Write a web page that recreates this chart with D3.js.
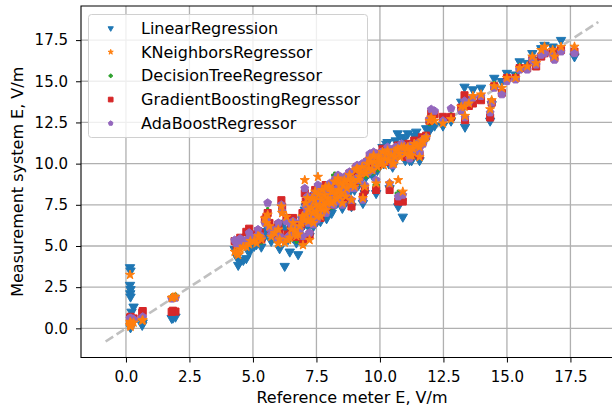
<!DOCTYPE html>
<html>
<head>
<meta charset="utf-8">
<script src="https://cdn.jsdelivr.net/npm/d3@7"></script>
<style>
  body { margin: 0; background: #fff; }
  svg { font-family: "DejaVu Sans", sans-serif; }
</style>
</head>
<body>
<div id="chart"></div>
<script>
// Predicted vs reference field strength, one point per test sample and model

// Reference meter readings (x) shared by all models
const refE = [
  0.16, 0.18, 0.16, 0.18, 0.17, 0.18, 0.30, 0.22, 0.18, 0.64, 0.66, 1.85, 1.95, 1.80,
  4.28, 4.42, 4.50, 4.62, 4.74, 4.85, 4.36, 4.90,
  5.05, 5.14, 5.27, 5.33, 5.47, 5.53, 5.58, 5.72, 5.86, 5.99, 6.05, 6.12, 6.15, 6.25,
  6.32, 6.38, 6.45, 6.51, 6.65, 6.71, 6.78,
  6.90, 6.97, 7.04, 7.10, 7.18, 7.23, 7.30, 7.36, 7.42, 7.50, 7.56, 7.62, 7.70, 7.75,
  7.82, 7.90, 7.95, 8.02, 8.10, 8.15, 8.22, 8.30, 8.38, 8.45, 8.52,
  8.60, 8.70, 8.80, 8.88, 8.95, 9.05, 9.15, 9.25, 9.33, 9.40, 9.50, 9.60, 9.70, 9.78, 9.85,
  9.95, 10.05, 10.15, 10.25, 10.38, 10.45, 10.55, 10.70, 10.72, 10.80, 10.90, 11.00,
  11.10, 11.25, 11.43, 11.55, 11.82,
  11.95, 12.02, 12.15, 12.48, 12.80,
  13.20, 13.33, 13.35, 13.50, 13.66, 13.98, 14.34, 14.40, 14.50, 14.80, 15.00, 15.34,
  15.50, 15.80, 16.00, 16.15, 16.35, 16.48, 16.80, 16.87, 17.13, 17.66,
  7.15, 7.28, 7.45, 7.66, 7.86, 8.05, 8.26, 8.48, 8.65, 9.00, 9.45, 9.90,
  10.10, 10.35, 10.62, 10.95, 11.17, 11.35, 11.56, 11.70,
  6.85, 6.95, 7.02, 7.08, 7.20, 7.33, 7.38, 7.48, 7.53, 7.58, 7.68, 7.72, 7.80, 7.88,
  7.98, 8.08, 8.18, 8.28, 8.35, 8.42, 8.55, 8.75, 8.85, 9.10, 9.20, 9.30, 9.55, 9.65,
  9.75, 10.00, 10.20, 10.30, 10.50, 10.60, 10.75, 10.85, 11.05, 11.20, 11.30, 11.48,
  11.65, 5.20, 5.65, 6.00, 6.58
];

const linReg = [
  3.70, 3.50, 2.63, 2.37, 2.12, 1.92, 1.31, 1.00, 0.05, 0.20, 0.35, 0.64, 0.70, 0.62,
  4.80, 3.84, 4.10, 4.14, 4.25, 4.60, 4.35, 4.90,
  5.00, 5.10, 5.20, 4.95, 5.60, 5.90, 6.10, 5.30, 5.50, 5.30, 4.85, 6.40, 6.20, 3.78,
  6.00, 5.40, 4.65, 5.90, 5.70, 5.20, 4.49,
  6.10, 5.30, 7.20, 6.60, 6.20, 5.60, 7.00, 6.80, 7.40, 6.70, 7.80, 7.20, 7.50, 6.90,
  7.80, 6.67, 7.60, 8.20, 7.00, 8.00, 8.40, 7.60, 8.20, 8.60, 7.30,
  8.80, 8.30, 9.10, 7.40, 8.90, 9.30, 8.70, 9.20, 7.60, 8.20, 9.80, 10.20, 9.30, 9.80, 8.20,
  10.30, 10.60, 10.00, 11.20, 8.50, 10.90, 10.40, 11.83, 7.40, 10.70, 6.77, 10.20,
  11.83, 10.20, 11.93, 11.30, 12.14,
  12.00, 12.20, 12.30, 12.30, 12.60,
  13.75, 14.66, 12.23, 13.90, 14.50, 14.60, 12.60, 13.60, 15.20, 15.00, 15.50, 15.40,
  16.20, 16.10, 16.70, 16.30, 17.00, 17.20, 17.10, 16.80, 17.50, 16.50,
  7.60, 6.40, 8.10, 6.50, 8.30, 7.30, 8.70, 8.00, 7.80, 8.40, 9.20, 9.60,
  11.00, 10.00, 11.40, 11.50, 10.20, 11.70, 10.20, 11.60,
  5.90, 6.60, 6.30, 7.40, 7.00, 7.60, 6.20, 7.20, 6.50, 7.90, 7.10, 8.20, 7.30, 7.00,
  8.30, 8.10, 7.40, 8.00, 8.90, 7.70, 8.50, 8.80, 8.40, 9.40, 8.90, 9.60, 9.40, 9.90,
  10.30, 9.90, 10.50, 11.30, 9.80, 10.60, 10.90, 11.60, 11.20, 11.00, 10.60, 11.50,
  11.20, 5.30, 5.80, 5.60, 5.50
];

const kNeighbors = [
  3.25, 0.35, 0.20, 0.15, 0.40, 0.30, 0.35, 0.25, 0.10, 0.46, 0.50, 1.88, 1.92, 1.85,
  4.65, 4.45, 4.80, 4.95, 4.95, 5.10, 4.55, 5.30,
  5.30, 5.16, 5.55, 5.40, 6.67, 6.40, 6.90, 5.56, 5.80, 5.16, 5.40, 7.40, 7.00, 5.20,
  6.77, 5.36, 5.50, 6.00, 5.96, 5.60, 5.70,
  6.40, 5.05, 9.00, 6.90, 6.50, 5.36, 7.30, 7.00, 7.80, 7.10, 9.20, 7.40, 7.80, 7.20,
  8.10, 7.60, 7.90, 8.50, 7.60, 8.30, 8.90, 7.90, 8.40, 8.80, 7.60,
  9.00, 8.50, 9.30, 7.80, 9.00, 9.60, 9.00, 9.50, 7.90, 8.60, 10.00, 10.30, 9.60, 10.10, 8.80,
  10.40, 10.20, 9.90, 10.60, 8.80, 10.50, 10.00, 10.90, 9.00, 10.40, 8.30, 10.60,
  11.00, 10.50, 11.10, 11.00, 11.60,
  12.60, 12.80, 12.60, 12.44, 12.70,
  13.45, 13.45, 12.90, 13.65, 14.10, 14.20, 13.30, 13.85, 14.70, 14.60, 15.20, 15.20,
  15.80, 15.90, 16.50, 16.10, 16.90, 17.10, 16.90, 16.50, 17.09, 17.10,
  7.90, 6.60, 8.30, 6.80, 8.60, 7.70, 8.90, 8.20, 8.00, 8.60, 9.40, 9.80,
  10.70, 10.20, 10.80, 11.00, 10.50, 11.20, 10.40, 11.30,
  6.20, 6.80, 6.60, 7.60, 7.20, 7.90, 6.40, 7.50, 6.80, 8.10, 7.30, 8.40, 7.50, 7.20,
  8.60, 8.30, 7.70, 8.20, 9.10, 8.00, 8.70, 9.00, 8.70, 9.70, 9.20, 9.80, 9.70, 10.10,
  10.50, 10.10, 10.30, 10.80, 10.00, 10.40, 10.60, 11.00, 10.90, 10.80, 10.90, 11.10,
  11.40, 5.60, 6.20, 6.00, 6.40
];

const decisionTree = [
  0.55, 0.45, 0.30, 0.25, 0.35, 0.40, 0.50, 0.35, 0.20, 0.70, 0.65, 1.90, 1.95, 1.88,
  5.20, 5.00, 5.40, 5.10, 5.70, 5.90, 5.00, 5.60,
  5.40, 5.50, 5.70, 5.30, 6.50, 6.70, 7.14, 5.80, 6.00, 5.50, 5.70, 7.60, 7.20, 5.30,
  6.60, 5.60, 5.40, 6.10, 6.00, 5.36, 5.80,
  6.20, 5.10, 8.40, 6.70, 6.60, 5.50, 7.20, 7.10, 7.60, 7.00, 8.60, 7.50, 7.70, 7.10,
  8.00, 7.50, 8.10, 8.60, 7.40, 8.20, 9.30, 8.00, 8.30, 8.70, 7.80,
  8.90, 8.40, 9.20, 7.60, 9.10, 9.50, 8.90, 9.40, 7.80, 8.50, 9.90, 10.20, 9.50, 10.00, 8.70,
  10.50, 10.30, 10.00, 10.70, 8.60, 10.40, 10.10, 11.00, 8.20, 10.50, 7.80, 10.50,
  11.10, 10.40, 11.00, 11.20, 11.50,
  12.50, 13.00, 12.90, 12.70, 12.90,
  13.30, 14.00, 12.70, 13.60, 13.80, 14.00, 13.00, 13.80, 14.80, 14.40, 15.10, 15.30,
  15.90, 15.80, 16.40, 16.00, 16.60, 16.80, 16.80, 16.40, 16.90, 16.80,
  7.80, 6.50, 8.20, 6.90, 8.50, 7.60, 8.80, 8.10, 8.10, 8.50, 9.30, 9.70,
  10.80, 10.30, 10.70, 11.10, 10.60, 11.30, 10.60, 11.40,
  6.10, 6.90, 6.50, 7.50, 7.30, 7.70, 6.60, 7.40, 6.70, 8.00, 7.40, 8.30, 7.60, 7.10,
  8.50, 8.20, 7.60, 8.30, 9.00, 7.90, 8.60, 9.10, 8.60, 9.60, 9.10, 9.90, 9.60, 10.00,
  10.40, 10.20, 10.40, 10.90, 10.10, 10.50, 10.70, 10.90, 11.00, 10.90, 10.80, 11.20,
  11.30, 5.80, 6.30, 6.20, 6.60
];

const gradBoost = [
  0.60, 0.55, 0.45, 0.50, 0.65, 0.70, 0.60, 0.55, 0.40, 0.95, 1.05, 1.07, 1.02, 1.00,
  5.30, 5.16, 5.50, 5.25, 5.86, 6.05, 5.05, 5.70,
  5.50, 5.35, 5.80, 5.40, 6.60, 6.77, 7.00, 5.90, 6.10, 5.60, 5.75, 7.78, 7.38, 5.45,
  6.70, 5.70, 5.60, 6.16, 6.20, 5.55, 5.90,
  6.30, 5.40, 8.20, 6.80, 6.70, 5.70, 7.40, 7.00, 7.70, 7.20, 8.50, 7.60, 7.90, 7.30,
  8.20, 7.70, 8.00, 8.40, 7.50, 8.40, 8.80, 8.10, 8.50, 8.90, 7.70,
  9.10, 8.70, 9.40, 7.40, 9.20, 9.70, 9.10, 9.60, 8.00, 8.40, 10.10, 10.40, 9.70, 10.20, 8.40,
  10.60, 10.50, 10.10, 10.80, 8.40, 10.60, 10.30, 11.10, 7.70, 10.60, 7.70, 10.40,
  11.20, 10.60, 11.30, 11.10, 11.70,
  12.60, 13.05, 13.00, 12.84, 12.84,
  13.40, 14.15, 12.64, 13.50, 13.65, 13.85, 12.80, 13.70, 14.70, 14.30, 15.20, 15.20,
  15.80, 15.80, 16.30, 15.90, 16.50, 16.70, 16.80, 16.40, 16.90, 16.80,
  7.70, 6.80, 8.40, 6.70, 8.70, 7.80, 9.00, 8.30, 7.90, 8.70, 9.50, 9.90,
  10.90, 10.10, 10.90, 10.90, 10.40, 11.40, 10.50, 11.50,
  6.30, 7.00, 6.70, 7.70, 7.10, 8.00, 6.50, 7.60, 6.90, 8.20, 7.20, 8.50, 7.40, 7.30,
  8.70, 8.40, 7.80, 8.10, 9.20, 8.10, 8.80, 8.90, 8.80, 9.80, 9.30, 9.70, 9.80, 10.20,
  10.60, 10.00, 10.60, 10.70, 10.20, 10.70, 10.80, 11.10, 11.10, 11.00, 10.70, 11.30,
  11.60, 5.90, 6.40, 6.30, 6.70
];

const adaBoost = [
  0.62, 0.50, 0.60, 0.55, 0.62, 0.58, 0.55, 0.60, 0.45, 0.64, 0.70, 1.82, 1.85, 1.80,
  5.36, 5.30, 5.45, 5.20, 5.36, 5.80, 5.10, 5.55,
  5.45, 5.60, 5.66, 5.50, 6.40, 6.55, 7.62, 5.70, 5.96, 5.40, 5.60, 7.50, 7.10, 5.35,
  6.50, 5.55, 5.65, 6.30, 6.10, 5.70, 5.85,
  6.50, 5.60, 8.50, 7.00, 6.40, 5.80, 7.10, 7.30, 7.50, 6.90, 8.70, 7.70, 8.00, 7.10,
  8.30, 7.40, 7.80, 8.80, 7.70, 8.10, 9.00, 7.80, 8.60, 8.70, 7.50,
  9.20, 8.60, 9.50, 7.80, 9.00, 9.80, 9.20, 9.50, 7.80, 8.70, 10.20, 10.60, 9.60, 10.00, 9.00,
  10.40, 10.70, 10.20, 10.60, 8.80, 10.80, 10.20, 10.90, 8.00, 10.80, 8.10, 10.70,
  11.00, 10.70, 11.20, 10.90, 11.60,
  12.70, 13.30, 13.20, 12.60, 13.35,
  13.20, 13.80, 12.80, 13.70, 14.00, 14.10, 13.10, 13.70, 14.60, 14.20, 15.00, 15.10,
  15.70, 15.70, 16.30, 16.00, 16.60, 16.70, 16.60, 16.30, 16.80, 16.70,
  8.00, 6.70, 8.20, 7.00, 8.40, 7.90, 9.10, 8.40, 8.20, 8.50, 9.60, 10.00,
  10.60, 10.40, 11.00, 10.80, 10.30, 11.10, 10.70, 11.20,
  6.00, 6.70, 6.80, 7.40, 7.40, 7.80, 6.30, 7.70, 6.60, 8.30, 7.50, 8.20, 7.70, 7.00,
  8.40, 8.50, 7.50, 8.40, 9.30, 7.80, 8.90, 9.20, 8.50, 9.90, 9.00, 10.00, 9.50, 10.30,
  10.70, 10.30, 10.50, 11.00, 9.90, 10.60, 10.50, 11.20, 10.80, 11.10, 11.00, 11.00,
  11.40, 6.00, 6.10, 6.40, 6.50
];

// Legend order and styling
const modelNames = ["LinearRegression", "KNeighborsRegressor", "DecisionTreeRegressor",
                    "GradientBoostingRegressor", "AdaBoostRegressor"];
const modelValues = [linReg, kNeighbors, decisionTree, gradBoost, adaBoost];
const modelColors = ["#1f77b4", "#ff7f0e", "#2ca02c", "#d62728", "#9467bd"];

// Ideal y = x guide
const idealLine = [-0.8, 18.6];
const xTicks = [0.0, 2.5, 5.0, 7.5, 10.0, 12.5, 15.0, 17.5];
const yTicks = [0.0, 2.5, 5.0, 7.5, 10.0, 12.5, 15.0, 17.5];

// Pentagon marker (matplotlib "p")
const symbolPentagon = {
  draw(ctx, size) {
    const r = Math.sqrt(size / 2.3776);
    for (let i = 0; i < 5; i++) {
      const a = -Math.PI / 2 + i * 2 * Math.PI / 5;
      if (i === 0) ctx.moveTo(r * Math.cos(a), r * Math.sin(a));
      else ctx.lineTo(r * Math.cos(a), r * Math.sin(a));
    }
    ctx.closePath();
  }
};

const modelSymbols = [d3.symbolTriangle, d3.symbolStar, d3.symbolCross, d3.symbolSquare, symbolPentagon];
const modelSizes = [38, 26, 22, 50, 40];
const legendSizes = [12, 8, 7, 22, 14];
const modelRotate = [180, 0, 0, 0, 0];

const width = 612;
const height = 409;

const svg = d3.select("#chart")
  .append("svg")
  .attr("width", width)
  .attr("height", height);

const pad = 0.05 * (idealLine[1] - idealLine[0]);
const x = d3.scaleLinear()
  .domain([idealLine[0] - pad, idealLine[1] + pad])
  .range([81, 623]);
const y = d3.scaleLinear()
  .domain([idealLine[0] - pad, idealLine[1] + pad])
  .range([357.5, 6]);

// Grid
const grid = svg.append("g")
  .attr("stroke", "#b0b0b0")
  .attr("stroke-width", 1.3);
grid.selectAll(".gx")
  .data(xTicks)
  .join("line")
    .attr("x1", d => x(d)).attr("x2", d => x(d))
    .attr("y1", y.range()[0]).attr("y2", y.range()[1]);
grid.selectAll(".gy")
  .data(yTicks)
  .join("line")
    .attr("y1", d => y(d)).attr("y2", d => y(d))
    .attr("x1", x.range()[0]).attr("x2", x.range()[1]);

// y = x dashed line, underneath the points
svg.append("line")
  .attr("x1", x(idealLine[0])).attr("y1", y(idealLine[0]))
  .attr("x2", x(idealLine[1])).attr("y2", y(idealLine[1]))
  .attr("stroke", "#c0c0c0")
  .attr("stroke-width", 2.6)
  .attr("stroke-dasharray", "9,4");

// Scatter, drawn so that KNeighbors sits on top like in the original
const drawOrder = [0, 2, 3, 4, 1];
const marks = svg.append("g");
drawOrder.forEach(k => {
  const sym = d3.symbol().type(modelSymbols[k]).size(modelSizes[k]);
  marks.append("g")
    .attr("fill", modelColors[k])
    .attr("stroke", modelColors[k])
    .attr("stroke-width", 1)
    .attr("stroke-linejoin", "round")
    .selectAll("path")
    .data(refE.map((d, i) => [d, modelValues[k][i]]))
    .join("path")
      .attr("d", sym)
      .attr("transform", d => `translate(${x(d[0])},${y(d[1])}) rotate(${modelRotate[k]})`);
});

// Axes
const xAxis = svg.append("g")
  .attr("transform", `translate(0,${y.range()[0]})`)
  .call(d3.axisBottom(x).tickValues(xTicks).tickFormat(d3.format(".1f"))
    .tickSize(5).tickPadding(8.5));
const yAxis = svg.append("g")
  .attr("transform", `translate(${x.range()[0]},0)`)
  .call(d3.axisLeft(y).tickValues(yTicks).tickFormat(d3.format(".1f"))
    .tickSize(5).tickPadding(8));

[xAxis, yAxis].forEach(a => {
  a.selectAll("text").attr("font-size", 15).attr("fill", "#000")
    .attr("font-family", "DejaVu Sans");
  a.selectAll("line").attr("stroke", "#000");
  a.select(".domain").remove();
});

// Spines: left, bottom and top (right one falls outside the picture)
svg.append("path")
  .attr("d", `M${x.range()[1]},${y.range()[1]}H${x.range()[0]}V${y.range()[0]}H${x.range()[1]}`)
  .attr("fill", "none")
  .attr("stroke", "#000")
  .attr("stroke-width", 1.1);

svg.append("text")
  .attr("x", (x.range()[0] + x.range()[1]) / 2)
  .attr("y", 403)
  .attr("text-anchor", "middle")
  .attr("font-size", 16)
  .text("Reference meter E, V/m");

svg.append("text")
  .attr("transform", `translate(23,${(y.range()[0] + y.range()[1]) / 2}) rotate(-90)`)
  .attr("text-anchor", "middle")
  .attr("font-size", 16)
  .text("Measurement system E, V/m");

// Legend
const legend = svg.append("g").attr("transform", "translate(88.5,14.5)");
legend.append("rect")
  .attr("width", 279)
  .attr("height", 123)
  .attr("rx", 3)
  .attr("fill", "#fff")
  .attr("fill-opacity", 0.8)
  .attr("stroke", "#d0d0d0");

modelNames.forEach((name, k) => {
  const row = legend.append("g").attr("transform", `translate(0,${13.8 + k * 23.75})`);
  row.append("path")
    .attr("d", d3.symbol().type(modelSymbols[k]).size(legendSizes[k]))
    .attr("fill", modelColors[k])
    .attr("stroke", modelColors[k])
    .attr("stroke-width", 1)
    .attr("stroke-linejoin", "round")
    .attr("transform", `translate(22.2,0) rotate(${modelRotate[k]})`);
  row.append("text")
    .attr("x", 52.5)
    .attr("y", 5.6)
    .attr("font-size", 16)
    .text(name);
});
</script>
</body>
</html>
